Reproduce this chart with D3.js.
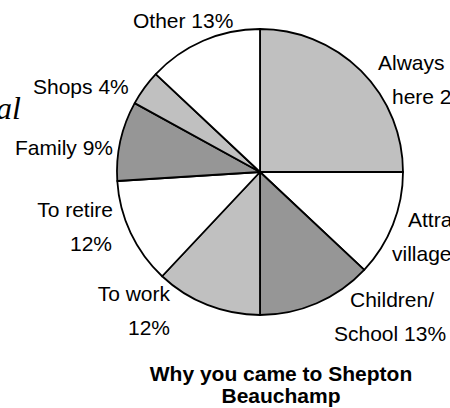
<!DOCTYPE html>
<html>
<head>
<meta charset="utf-8">
<script src="https://cdn.jsdelivr.net/npm/d3@7"></script>
<style>
  body { margin: 0; background: #fff; }
  svg { display: block; }
  text { font-family: "Liberation Sans", Arial, sans-serif; fill: #000; }
</style>
</head>
<body>
<div id="chart"></div>
<script>
// data, clockwise from 12 o'clock
var categories = ["Always here", "Attractive village", "Children/School", "To work", "To retire", "Family", "Shops", "Other"];
var percents = [25, 12, 13, 12, 12, 9, 4, 13];
var labelLines = [
  ["Always", "here 25%"],
  ["Attractive", "village 12%"],
  ["Children/", "School 13%"],
  ["To work", "12%"],
  ["To retire", "12%"],
  ["Family 9%"],
  ["Shops 4%"],
  ["Other 13%"]
];
var titleLines = ["Why you came to Shepton", "Beauchamp"];

var width = 450, height = 408;
var cx = 260, cy = 172, radius = 143;

var fills = ["#c0c0c0", "#ffffff", "#969696", "#c0c0c0", "#ffffff", "#969696", "#c0c0c0", "#ffffff"];

// where each label block sits (first line x, baseline y, anchor, line gap, per-line x shift)
var labelLayout = [
  {x: 378, y: 70, anchor: "start", shift: [0, 14]},
  {x: 408, y: 227, anchor: "start", shift: [0, -16]},
  {x: 350, y: 307, anchor: "start", shift: [0, -16]},
  {x: 170, y: 301, anchor: "end", shift: [0, 0]},
  {x: 113, y: 217, anchor: "end", shift: [0, -1]},
  {x: 15, y: 155, anchor: "start", shift: [0]},
  {x: 33, y: 94, anchor: "start", shift: [0]},
  {x: 133, y: 28, anchor: "start", shift: [0]}
];

var svg = d3.select("#chart").append("svg")
    .attr("width", width)
    .attr("height", height);

// leftover decoration at the left edge
svg.append("text")
    .attr("x", -4)
    .attr("y", 119)
    .style("font-family", "'Liberation Serif', 'DejaVu Serif', serif")
    .style("font-style", "italic")
    .style("font-size", "32px")
    .text("al");

var pie = d3.pie().sort(null).value(function(d) { return d; });
var arc = d3.arc().innerRadius(0).outerRadius(radius);

var g = svg.append("g").attr("transform", "translate(" + cx + "," + cy + ")");

g.selectAll("path")
  .data(pie(percents))
  .enter().append("path")
    .attr("d", arc)
    .attr("fill", function(d, i) { return fills[i]; })
    .attr("stroke", "#000")
    .attr("stroke-width", 1.8)
    .attr("stroke-linejoin", "round");

var labels = svg.selectAll(".lbl")
  .data(categories)
  .enter().append("text")
    .attr("class", "lbl")
    .style("font-size", "21px")
    .attr("text-anchor", function(d, i) { return labelLayout[i].anchor; });

labels.each(function(d, i) {
  var lay = labelLayout[i];
  d3.select(this).selectAll("tspan")
    .data(labelLines[i])
    .enter().append("tspan")
      .attr("x", function(t, j) { return lay.x + lay.shift[j]; })
      .attr("y", function(t, j) { return lay.y + j * 33.5; })
      .text(function(t) { return t; });
});

svg.append("text")
    .attr("text-anchor", "middle")
    .style("font-size", "21px")
    .style("font-weight", "bold")
  .selectAll("tspan")
  .data(titleLines)
  .enter().append("tspan")
    .attr("x", 281)
    .attr("y", function(d, i) { return 381 + i * 22; })
    .text(function(d) { return d; });
</script>
</body>
</html>
